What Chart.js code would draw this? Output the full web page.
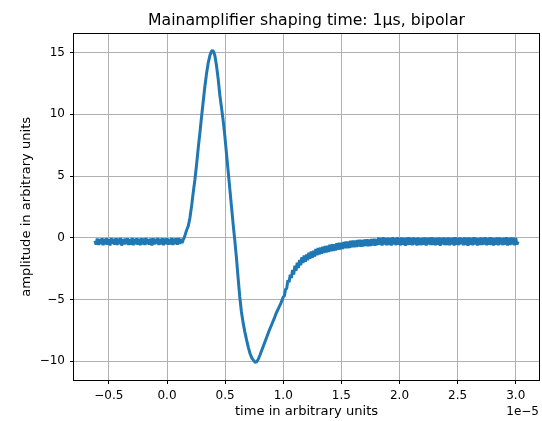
<!DOCTYPE html>
<html>
<head>
<meta charset="utf-8">
<script src="https://cdn.jsdelivr.net/npm/chart.js@4/dist/chart.umd.min.js"></script>
<style>
html,body{margin:0;padding:0;background:#fff;}
#wrap{width:542px;height:421px;}
</style>
</head>
<body>
<div id="wrap"><canvas id="c" width="542" height="421"></canvas></div>
<script>
// ---- data (time in units of 1e-5, amplitude in arbitrary units) ----
const titleText = 'Mainamplifier shaping time: 1\u03BCs, bipolar';
const xLabel = 'time in arbitrary units';
const yLabel = 'amplitude in arbitrary units';
const xOffsetLabel = '1e\u22125';

const xTickValues = [-0.5, 0.0, 0.5, 1.0, 1.5, 2.0, 2.5, 3.0];
const yTickValues = [-10, -5, 0, 5, 10, 15];
const xLimits = [-0.80, 3.20];
const yLimits = [-11.53, 16.55];

const leadTime = [-0.62,-0.61,-0.60,-0.59,-0.58,-0.57,-0.56,-0.55,-0.54,-0.53,
  -0.52,-0.51,-0.50,-0.49,-0.48,-0.47,-0.46,-0.45,-0.44,-0.43,
  -0.42,-0.41,-0.40,-0.39,-0.38,-0.37,-0.36,-0.35,-0.34,-0.33,
  -0.32,-0.31,-0.30,-0.29,-0.28,-0.27,-0.26,-0.25,-0.24,-0.23,
  -0.22,-0.21,-0.20,-0.19,-0.18,-0.17,-0.16,-0.15,-0.14,-0.13,
  -0.12,-0.11,-0.10,-0.09,-0.08,-0.07,-0.06,-0.05,-0.04,-0.03,
  -0.02,-0.01,0.00,0.01,0.02,0.03,0.04,0.05,0.06,0.07,
  0.08,0.09,0.10,0.11,0.12,0.13,0.14];
const leadAmp = [-0.25,-0.55,-0.06,-0.58,-0.10,-0.52,-0.04,-0.60,-0.08,-0.54,
  -0.05,-0.57,-0.12,-0.62,-0.03,-0.51,-0.09,-0.56,-0.05,-0.59,
  -0.07,-0.53,-0.02,-0.64,-0.10,-0.55,-0.06,-0.52,-0.04,-0.58,
  -0.11,-0.56,-0.03,-0.60,-0.08,-0.53,-0.05,-0.57,-0.09,-0.61,
  -0.04,-0.54,-0.07,-0.59,-0.02,-0.52,-0.10,-0.56,-0.06,-0.63,
  -0.05,-0.55,-0.08,-0.51,-0.03,-0.58,-0.09,-0.54,-0.04,-0.60,
  -0.07,-0.53,-0.05,-0.57,-0.10,-0.55,-0.03,-0.59,-0.06,-0.52,
  -0.04,-0.56,-0.02,-0.50,-0.08,-0.42,-0.15];

const pulseTime = [0.150,0.160,0.170,0.183,0.197,0.212,0.226,0.240,0.254,0.268,
  0.283,0.297,0.311,0.325,0.340,0.355,0.370,0.382,0.392,0.402,
  0.412,0.425,0.440,0.454,0.468,0.482,0.497,0.512,0.527,0.542,
  0.556,0.570,0.584,0.598,0.612,0.626,0.640,0.655,0.670,0.685,
  0.700,0.715,0.730,0.745,0.760,0.772,0.785,0.800,0.820,0.840,
  0.860,0.880,0.900,0.920,0.940,0.960,0.980];
const pulseAmp = [0.05,0.35,0.65,0.95,1.60,2.60,3.70,4.70,5.90,7.20,
  8.50,9.80,11.00,12.20,13.30,14.20,14.80,15.10,15.20,15.05,
  14.75,14.00,12.90,11.60,10.60,9.60,8.30,6.80,5.30,3.80,
  2.40,1.00,-0.30,-1.70,-3.30,-4.80,-6.00,-6.90,-7.65,-8.30,
  -8.90,-9.40,-9.75,-9.95,-10.10,-10.05,-9.85,-9.50,-9.00,-8.50,
  -8.00,-7.50,-7.05,-6.60,-6.10,-5.70,-5.30];

const recoveryTime = [1.00,1.01,1.02,1.03,1.04,1.05,1.06,1.07,1.08,1.09,
  1.10,1.11,1.12,1.13,1.14,1.15,1.16,1.17,1.18,1.19,
  1.20,1.21,1.22,1.23,1.24,1.25,1.26,1.27,1.28,1.29,
  1.30,1.31,1.32,1.33,1.34,1.35,1.36,1.37,1.38,1.39,
  1.40,1.41,1.42,1.43,1.44,1.45,1.46,1.47,1.48,1.49,
  1.50,1.51,1.52,1.53,1.54,1.55,1.56,1.57,1.58,1.59,
  1.60,1.61,1.62,1.63,1.64,1.65,1.66,1.67,1.68,1.69,
  1.70,1.71,1.72,1.73,1.74,1.75,1.76,1.77,1.78,1.79,1.80];
const recoveryAmp = [-4.80,-4.70,-4.18,-4.10,-3.45,-3.60,-3.00,-3.26,-2.61,-2.98,
  -2.27,-2.68,-2.02,-2.45,-1.80,-2.23,-1.57,-2.04,-1.44,-1.94,
  -1.35,-1.83,-1.22,-1.71,-1.12,-1.63,-1.05,-1.53,-0.92,-1.42,
  -0.84,-1.36,-0.80,-1.30,-0.72,-1.23,-0.67,-1.20,-0.65,-1.15,
  -0.57,-1.09,-0.53,-1.07,-0.52,-1.03,-0.45,-0.97,-0.41,-0.95,
  -0.40,-0.91,-0.34,-0.86,-0.31,-0.86,-0.31,-0.83,-0.25,-0.78,
  -0.22,-0.77,-0.23,-0.75,-0.18,-0.71,-0.17,-0.72,-0.18,-0.70,
  -0.14,-0.67,-0.13,-0.68,-0.14,-0.66,-0.10,-0.63,-0.08,-0.64,-0.10];

const tailTime = [1.81,1.82,1.83,1.84,1.85,1.86,1.87,1.88,1.89,1.90,
  1.91,1.92,1.93,1.94,1.95,1.96,1.97,1.98,1.99,2.00,
  2.01,2.02,2.03,2.04,2.05,2.06,2.07,2.08,2.09,2.10,
  2.11,2.12,2.13,2.14,2.15,2.16,2.17,2.18,2.19,2.20,
  2.21,2.22,2.23,2.24,2.25,2.26,2.27,2.28,2.29,2.30,
  2.31,2.32,2.33,2.34,2.35,2.36,2.37,2.38,2.39,2.40,
  2.41,2.42,2.43,2.44,2.45,2.46,2.47,2.48,2.49,2.50,
  2.51,2.52,2.53,2.54,2.55,2.56,2.57,2.58,2.59,2.60,
  2.61,2.62,2.63,2.64,2.65,2.66,2.67,2.68,2.69,2.70,
  2.71,2.72,2.73,2.74,2.75,2.76,2.77,2.78,2.79,2.80,
  2.81,2.82,2.83,2.84,2.85,2.86,2.87,2.88,2.89,2.90,
  2.91,2.92,2.93,2.94,2.95,2.96,2.97,2.98,2.99,3.00,
  3.01,3.02];
const tailAmp = [-0.60,0.02,-0.57,-0.02,-0.63,0.04,-0.55,-0.03,-0.61,0.01,
  -0.58,-0.02,-0.64,0.03,-0.54,-0.01,-0.60,0.05,-0.57,-0.03,
  -0.62,0.02,-0.56,-0.01,-0.66,0.01,-0.59,0.04,-0.56,-0.02,
  -0.61,0.02,-0.55,-0.01,-0.63,0.03,-0.58,-0.04,-0.60,0.01,
  -0.57,0.02,-0.63,-0.01,-0.54,0.02,-0.59,0.05,-0.58,-0.02,
  -0.61,0.01,-0.56,0.03,-0.65,-0.01,-0.55,0.02,-0.60,-0.01,
  -0.58,0.03,-0.62,-0.02,-0.55,0.01,-0.64,0.04,-0.57,-0.03,
  -0.60,0.02,-0.53,-0.01,-0.62,0.03,-0.58,0.00,-0.66,0.02,
  -0.56,-0.02,-0.61,0.04,-0.55,0.01,-0.63,-0.03,-0.58,0.02,
  -0.60,0.00,-0.54,0.03,-0.62,-0.02,-0.57,0.05,-0.59,0.01,
  -0.64,-0.01,-0.56,0.02,-0.61,0.03,-0.55,-0.02,-0.60,0.01,
  -0.57,0.04,-0.63,-0.01,-0.58,0.02,-0.54,0.00,-0.61,-0.02,
  -0.55,-0.30];

// ---- build points ----
const points = [];
[[leadTime, leadAmp], [pulseTime, pulseAmp], [recoveryTime, recoveryAmp], [tailTime, tailAmp]]
  .forEach(([t, a]) => t.forEach((v, i) => points.push({x: v, y: a[i]})));

const FONT = "'DejaVu Sans', sans-serif";
Chart.defaults.font.family = FONT;
Chart.defaults.color = '#000';

function fmt(v, d) {
  return Number(v).toFixed(d).replace('-', '\u2212');
}

const framePlugin = {
  id: 'frame',
  afterDraw(chart) {
    const {ctx, chartArea: a} = chart;
    ctx.save();
    ctx.strokeStyle = '#000';
    ctx.lineWidth = 1;
    ctx.strokeRect(Math.round(a.left) - 0.5, Math.round(a.top) - 0.5,
      Math.round(a.right - a.left) + 1, Math.round(a.bottom - a.top) + 1);
    ctx.font = '12px ' + FONT;
    ctx.fillStyle = '#000';
    ctx.textAlign = 'right';
    ctx.textBaseline = 'middle';
    ctx.fillText(xOffsetLabel, a.right, 412);
    ctx.restore();
  }
};

new Chart(document.getElementById('c'), {
  type: 'line',
  data: {
    datasets: [{
      data: points,
      borderColor: '#1f77b4',
      borderWidth: 3,
      borderJoinStyle: 'bevel',
      pointRadius: 0,
      tension: 0,
      fill: false
    }]
  },
  options: {
    responsive: false,
    animation: false,
    devicePixelRatio: 1,
    layout: {padding: {left: 0, right: 3, top: 0, bottom: 0}},
    plugins: {
      legend: {display: false},
      tooltip: {enabled: false},
      title: {
        display: true,
        fullSize: false,
        text: titleText,
        color: '#000',
        font: {size: 15.7, weight: 'normal', family: FONT},
        padding: {top: 11.6, bottom: 3.1}
      }
    },
    scales: {
      x: {
        type: 'linear',
        min: xLimits[0],
        max: xLimits[1],
        afterBuildTicks: s => { s.ticks = xTickValues.map(v => ({value: v})); },
        afterFit: s => { s.height = 41; },
        ticks: {
          callback: v => fmt(v, 1),
          font: {size: 12},
          color: '#000',
          padding: 4.6,
          maxRotation: 0,
          autoSkip: false
        },
        grid: {color: '#b0b0b0', lineWidth: 1, tickColor: '#000', tickLength: 4, drawTicks: true},
        border: {display: false},
        title: {display: true, text: xLabel, color: '#000', font: {size: 13.1}, padding: {top: 0, bottom: 2}}
      },
      y: {
        type: 'linear',
        min: yLimits[0],
        max: yLimits[1],
        afterBuildTicks: s => { s.ticks = yTickValues.map(v => ({value: v})); },
        afterFit: s => { s.width = 74; },
        ticks: {
          callback: v => fmt(v, 0),
          font: {size: 12},
          color: '#000',
          padding: 5,
          autoSkip: false
        },
        grid: {color: '#b0b0b0', lineWidth: 1, tickColor: '#000', tickLength: 4, drawTicks: true},
        border: {display: false},
        title: {display: true, text: yLabel, color: '#000', font: {size: 13.1}, padding: {top: 18.6, bottom: 0}}
      }
    }
  },
  plugins: [framePlugin]
});
</script>
</body>
</html>
